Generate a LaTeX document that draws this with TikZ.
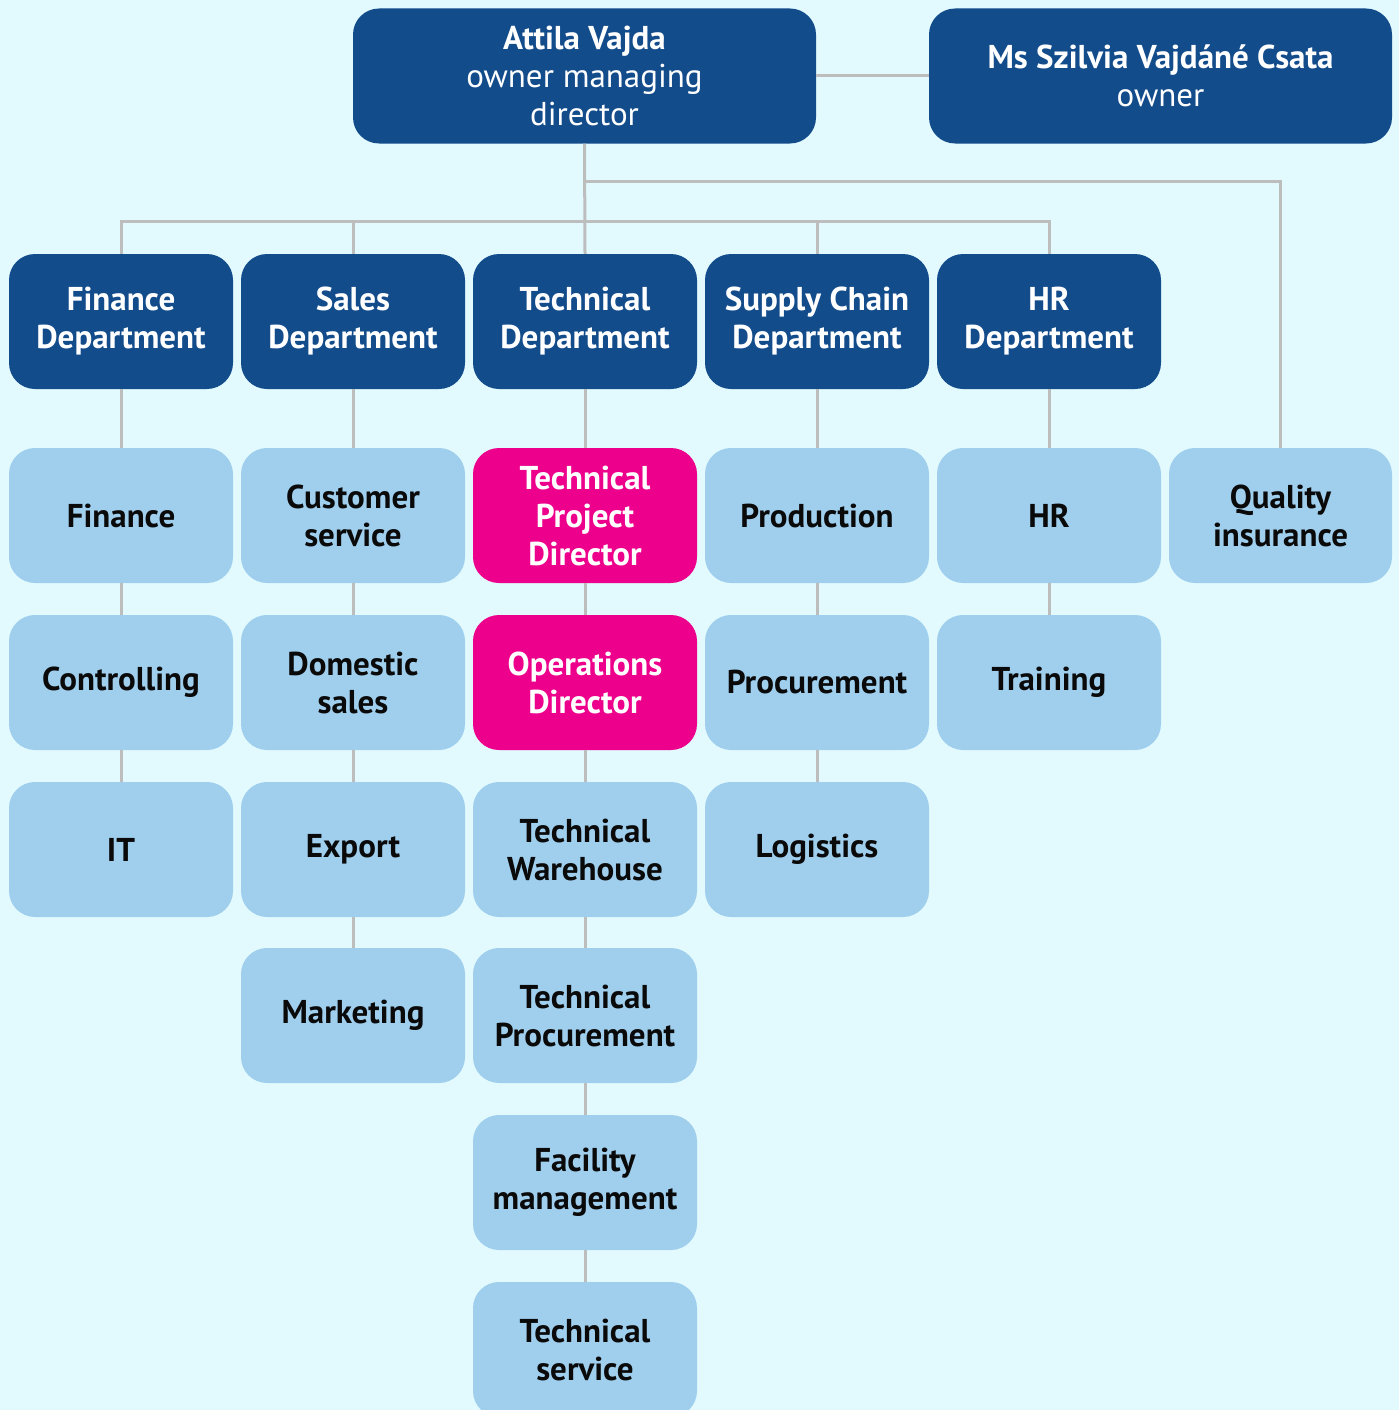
\documentclass[tikz,border=0pt]{standalone}
\usepackage{fontspec}
\setmainfont{PT Sans}
\definecolor{bgc}{HTML}{E2FAFE}
\definecolor{darkb}{HTML}{134C8B}
\definecolor{lightb}{HTML}{A0CFEE}
\definecolor{magb}{HTML}{EC008C}
\definecolor{linec}{HTML}{BDBDBD}
\definecolor{txtdark}{HTML}{0A0A0A}
\tikzset{
  box/.style={rounded corners=26pt, minimum width=224pt, minimum height=135pt, inner sep=0pt, align=center,
    font=\fontsize{33}{38}\selectfont\bfseries},
  topbox/.style={box, fill=darkb, text=white, minimum width=463pt},
  deptbox/.style={box, fill=darkb, text=white},
  unitbox/.style={box, fill=lightb, text=txtdark},
  hotbox/.style={box, fill=magb, text=white},
  conn/.style={draw=linec, line width=3pt},
}
\begin{document}
\begin{tikzpicture}[x=1pt,y=-1pt]
\fill[bgc] (0,0) rectangle (1399,1410);
\useasboundingbox (0,0) rectangle (1399,1410);
\clip (0,0) rectangle (1399,1410);
% top
\node[topbox] (att) at (584.5,76) {Attila Vajda\\\mdseries owner managing\\\mdseries director};
\node[topbox] (szi) at (1160.5,76) {Ms Szilvia Vajdáné Csata\\\mdseries owner};
% departments
\node[deptbox] (d1) at (121,321.5) {Finance\\Department};
\node[deptbox] (d2) at (353,321.5) {Sales\\Department};
\node[deptbox] (d3) at (585,321.5) {Technical\\Department};
\node[deptbox] (d4) at (817,321.5) {Supply Chain\\Department};
\node[deptbox] (d5) at (1049,321.5) {HR\\Department};
% column 1
\node[unitbox] (fin) at (121,515.5) {Finance};
\node[unitbox] (ctr) at (121,682.5) {Controlling};
\node[unitbox] (it) at (121,849.5) {IT};
% column 2
\node[unitbox] (cs) at (353,515.5) {Customer\\service};
\node[unitbox] (ds) at (353,682.5) {Domestic\\sales};
\node[unitbox] (ex) at (353,849.5) {Export};
\node[unitbox] (mk) at (353,1015.5) {Marketing};
% column 3
\node[hotbox] (tpd) at (585,515.5) {Technical\\Project\\Director};
\node[hotbox] (od) at (585,682.5) {Operations\\Director};
\node[unitbox] (tw) at (585,849.5) {Technical\\Warehouse};
\node[unitbox] (tp) at (585,1015.5) {Technical\\Procurement};
\node[unitbox] (fm) at (585,1182.5) {Facility\\management};
\node[unitbox] (ts) at (585,1349.5) {Technical\\service};
% column 4
\node[unitbox] (prod) at (817,515.5) {Production};
\node[unitbox] (proc) at (817,682.5) {Procurement};
\node[unitbox] (log) at (817,849.5) {Logistics};
% column 5
\node[unitbox] (hr) at (1049,515.5) {HR};
\node[unitbox] (tr) at (1049,682.5) {Training};
% column 6
\node[unitbox, minimum width=223pt] (qa) at (1280.5,515.5) {Quality\\insurance};
% connectors
\draw[conn] (att.east) -- (szi.west);
\draw[conn] (att.south) -- (d3.north);
\draw[conn] (d1.north) -- ++(0,-32) -| (d5.north);
\draw[conn] (d2.north) -- ++(0,-32);
\draw[conn] (d4.north) -- ++(0,-32);
\draw[conn] (att.south) ++(0,38) -| (qa.north);
\draw[conn] (d1.south) -- (fin.north) (fin.south) -- (ctr.north) (ctr.south) -- (it.north);
\draw[conn] (d2.south) -- (cs.north) (cs.south) -- (ds.north) (ds.south) -- (ex.north) (ex.south) -- (mk.north);
\draw[conn] (d3.south) -- (tpd.north) (tpd.south) -- (od.north) (od.south) -- (tw.north) (tw.south) -- (tp.north) (tp.south) -- (fm.north) (fm.south) -- (ts.north);
\draw[conn] (d4.south) -- (prod.north) (prod.south) -- (proc.north) (proc.south) -- (log.north);
\draw[conn] (d5.south) -- (hr.north) (hr.south) -- (tr.north);
\end{tikzpicture}
\end{document}
